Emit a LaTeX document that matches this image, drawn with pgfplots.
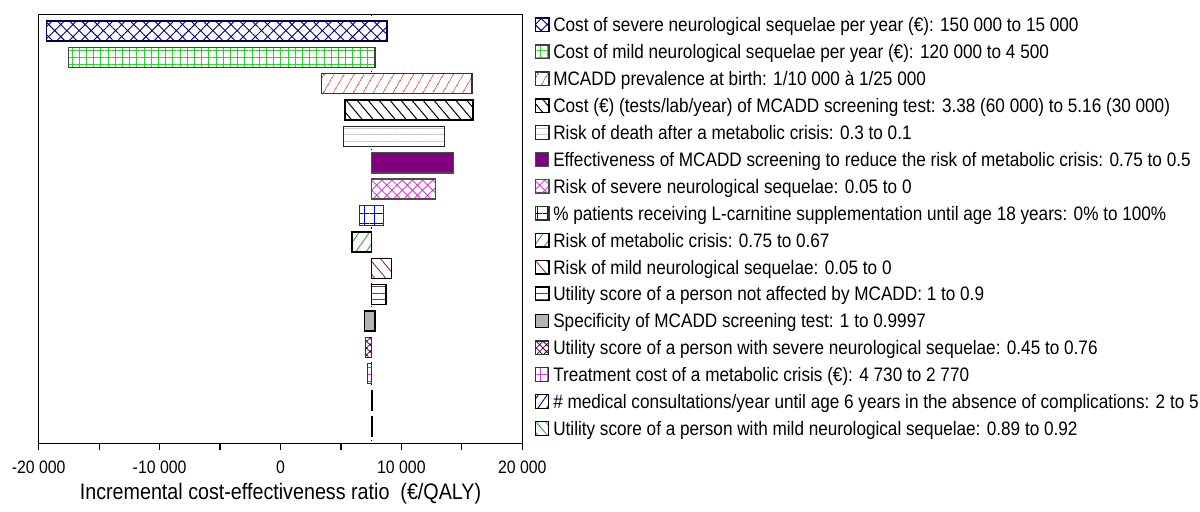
\documentclass[border=0pt]{standalone}
\usepackage{fontspec}
\setmainfont{Liberation Sans}[FakeStretch=0.88]
\usepackage{pgfplots}
\pgfplotsset{compat=1.18}
\usetikzlibrary{patterns,patterns.meta}
\definecolor{cnavy}{HTML}{000080}
\definecolor{cgreen}{HTML}{33CC33}
\definecolor{csalmon}{HTML}{CC5544}
\definecolor{cpurple}{HTML}{800080}
\definecolor{cmagenta}{HTML}{D040D0}
\definecolor{cblue}{HTML}{0000CC}
\definecolor{cgreen2}{HTML}{33AA33}
\definecolor{cbrown}{HTML}{993333}
\definecolor{cgrayfill}{HTML}{B4B4B4}
\definecolor{cdarkpurple}{HTML}{500050}
\begin{document}
\begin{tikzpicture}
\path[use as bounding box] (0,0) rectangle (600pt,-255.5pt);
\begin{axis}[
 at={(19.35pt,-7.25pt)}, anchor=north west,
 scale only axis, width=241.8pt, height=214.4pt,
 xmin=-20000, xmax=20000, ymin=0.379, ymax=16.636, y dir=reverse,
 xtick={-20000,-10000,0,10000,20000},
 xticklabels={-20 000,-10 000,0,10 000,20 000},
 minor xtick={-15000,-5000,5000,15000},
 ytick=\empty,
 xtick pos=bottom, xtick align=outside,
 major tick length=3.5pt, minor tick length=3.5pt,
 tick style={black, line width=0.6pt},
 axis line style={black, line width=0.6pt},
 tick label style={font=\fontsize{9}{10}\selectfont},
 xticklabel style={anchor=base, yshift=-11.4pt},
 xlabel={Incremental cost-effectiveness ratio\ \ (€/QALY)},
 xlabel style={font=\fontsize{11.2}{13}\selectfont, inner sep=0pt, at={(axis description cs:0.5,0)}, anchor=base, yshift=-28pt},
 legend image code/.code={\draw[#1, line width=0.5pt] (0pt,-3.4pt) rectangle (6.8pt,3.4pt);},
 legend style={at={(axis description cs:1,1)}, anchor=north west, xshift=6pt, yshift=-1pt, draw=none, fill=none, inner sep=0pt,
   font=\fontsize{9.75}{11}\selectfont, nodes={inner xsep=2pt, inner ysep=0pt, text height=7.5pt, text depth=0.5pt}, row sep=5.45pt},
 legend cell align=left,
]
% baseline (dotted)
\addplot[black, line width=0.4pt, dash pattern=on 0.6pt off 5pt, forget plot] coordinates {(7530,0.379) (7530,16.636)};
% 1
\addplot[draw=cnavy!60!black, line width=0.7pt, preaction={fill=white}, pattern={Hatch[angle=45,distance=4.3pt,line width=0.45pt]}, pattern color=cnavy]
 coordinates {(-19350,0.62) (8800,0.62) (8800,1.38) (-19350,1.38)} -- cycle;
\addlegendentry{Cost of severe neurological sequelae per year (€): 150 000 to 15 000}
% 2
\addplot[draw=black!75, line width=0.7pt, preaction={fill=white}, pattern={Hatch[angle=0,distance=3.6pt,line width=0.45pt]}, pattern color=cgreen]
 coordinates {(-17520,1.62) (7830,1.62) (7830,2.38) (-17520,2.38)} -- cycle;
\addlegendentry{Cost of mild neurological sequelae per year (€): 120 000 to 4 500}
% 3
\addplot[draw=black!80, line width=0.7pt, preaction={fill=white}, pattern={Lines[angle=60,distance=4pt,line width=0.45pt]}, pattern color=csalmon]
 coordinates {(3400,2.62) (15840,2.62) (15840,3.38) (3400,3.38)} -- cycle;
\addlegendentry{MCADD prevalence at birth: 1/10 000 à 1/25 000}
% 4
\addplot[draw=black, line width=0.7pt, preaction={fill=white}, pattern={Lines[angle=-50,distance=4.2pt,line width=0.5pt]}, pattern color=black]
 coordinates {(5350,3.62) (15920,3.62) (15920,4.38) (5350,4.38)} -- cycle;
\addlegendentry{Cost (€) (tests/lab/year) of MCADD screening test: 3.38 (60 000) to 5.16 (30 000)}
% 5
\addplot[draw=black!85, line width=0.7pt, preaction={fill=white}, pattern={Lines[angle=0,distance=3.3pt,line width=0.5pt]}, pattern color=black!20]
 coordinates {(5230,4.62) (13560,4.62) (13560,5.38) (5230,5.38)} -- cycle;
\addlegendentry{Risk of death after a metabolic crisis: 0.3 to 0.1}
% 6
\addplot[draw=black!70, line width=0.7pt, fill=cpurple]
 coordinates {(7530,5.62) (14330,5.62) (14330,6.38) (7530,6.38)} -- cycle;
\addlegendentry{Effectiveness of MCADD screening to reduce the risk of metabolic crisis: 0.75 to 0.5}
% 7
\addplot[draw=black!70, line width=0.7pt, preaction={fill=white}, pattern={Hatch[angle=45,distance=3.6pt,line width=0.45pt]}, pattern color=cmagenta]
 coordinates {(7530,6.62) (12820,6.62) (12820,7.38) (7530,7.38)} -- cycle;
\addlegendentry{Risk of severe neurological sequelae: 0.05 to 0}
% 8
\addplot[draw=black!80, line width=0.7pt, preaction={fill=white}, pattern={Hatch[angle=0,distance=4.8pt,line width=0.5pt]}, pattern color=cblue]
 coordinates {(6530,7.62) (8510,7.62) (8510,8.38) (6530,8.38)} -- cycle;
\addlegendentry{\% patients receiving L-carnitine supplementation until age 18 years: 0\% to 100\%}
% 9
\addplot[draw=black, line width=0.7pt, preaction={fill=white}, pattern={Lines[angle=55,distance=4.2pt,line width=0.45pt]}, pattern color=cgreen2]
 coordinates {(5910,8.62) (7530,8.62) (7530,9.38) (5910,9.38)} -- cycle;
\addlegendentry{Risk of metabolic crisis: 0.75 to 0.67}
% 10
\addplot[draw=black, line width=0.7pt, preaction={fill=white}, pattern={Lines[angle=-50,distance=4.2pt,line width=0.45pt]}, pattern color=cbrown]
 coordinates {(7530,9.62) (9160,9.62) (9160,10.38) (7530,10.38)} -- cycle;
\addlegendentry{Risk of mild neurological sequelae: 0.05 to 0}
% 11
\addplot[draw=black, line width=0.7pt, preaction={fill=white}, pattern={Lines[angle=0,distance=3.3pt,line width=0.6pt]}, pattern color=black!70]
 coordinates {(7530,10.62) (8720,10.62) (8720,11.38) (7530,11.38)} -- cycle;
\addlegendentry{Utility score of a person not affected by MCADD: 1 to 0.9}
% 12
\addplot[draw=black, line width=0.7pt, fill=cgrayfill]
 coordinates {(6940,11.62) (7830,11.62) (7830,12.38) (6940,12.38)} -- cycle;
\addlegendentry{Specificity of MCADD screening test: 1 to 0.9997}
% 13
\addplot[draw=black!80, line width=0.6pt, preaction={fill=white}, pattern={Hatch[angle=45,distance=2.4pt,line width=0.4pt]}, pattern color=cdarkpurple]
 coordinates {(7060,12.62) (7530,12.62) (7530,13.38) (7060,13.38)} -- cycle;
\addlegendentry{Utility score of a person with severe neurological sequelae: 0.45 to 0.76}
% 14
\addplot[draw=black!80, line width=0.6pt, preaction={fill=white}, pattern={Hatch[angle=0,distance=3.6pt,line width=0.45pt]}, pattern color=cmagenta]
 coordinates {(7180,13.62) (7530,13.62) (7530,14.38) (7180,14.38)} -- cycle;
\addlegendentry{Treatment cost of a metabolic crisis (€): 4 730 to 2 770}
% 15
\addplot[draw=black, line width=0.6pt, preaction={fill=white}, pattern={Lines[angle=55,distance=3.6pt,line width=0.45pt]}, pattern color=cnavy]
 coordinates {(7500,14.62) (7570,14.62) (7570,15.38) (7500,15.38)} -- cycle;
\addlegendentry{\# medical consultations/year until age 6 years in the absence of complications: 2 to 5}
% 16
\addplot[draw=black, line width=0.6pt, preaction={fill=white}, pattern={Lines[angle=-50,distance=3.6pt,line width=0.45pt]}, pattern color=cgreen2]
 coordinates {(7500,15.62) (7570,15.62) (7570,16.38) (7500,16.38)} -- cycle;
\addlegendentry{Utility score of a person with mild neurological sequelae: 0.89 to 0.92}
\end{axis}
\end{tikzpicture}
\end{document}
